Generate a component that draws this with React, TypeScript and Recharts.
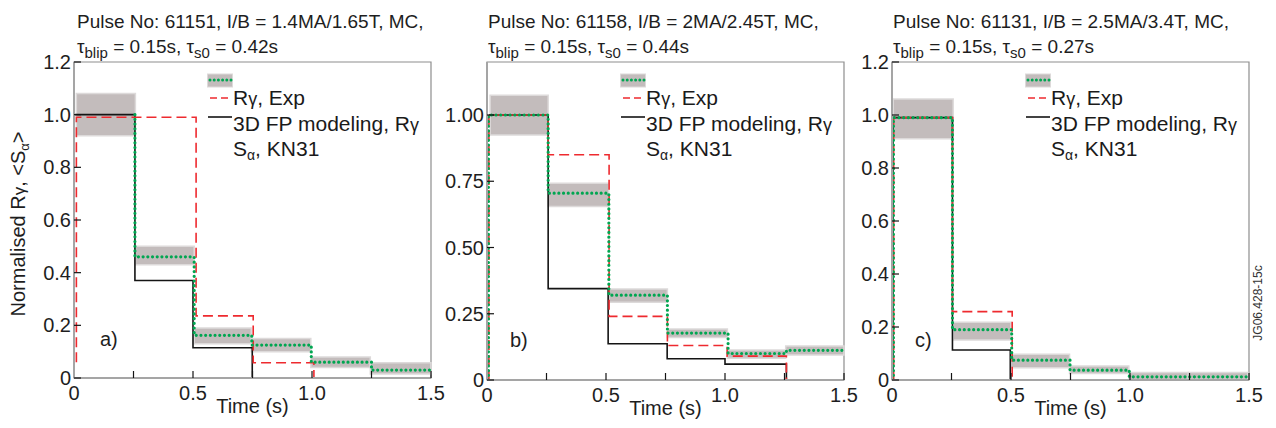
import React from "react";
import { ComposedChart, Line, XAxis, YAxis, ReferenceArea, Legend } from "recharts";

const FONT = '"Liberation Sans", Arial, Helvetica, sans-serif';
const GREEN = "#00a651";
const RED = "#ee2a2f";
const BLACK = "#141414";
const BAND = "#c3bcbc";
const BAND_EDGE = "#dddada";
const FRAME = "#8e8e8e";

// shared axes
const xTicks = [0, 0.25, 0.5, 0.75, 1, 1.25, 1.5];
const xTickLabels = ["0", "", "0.5", "", "1.0", "", "1.5"];
const yTicks12 = [0, 0.2, 0.4, 0.6, 0.8, 1.0, 1.2];
const yTickLabels12 = ["0", "0.2", "0.4", "0.6", "0.8", "1.0", "1.2"];
const yTicks100 = [0, 0.25, 0.5, 0.75, 1.0];
const yTickLabels100 = ["0", "0.25", "0.50", "0.75", "1.00"];

// a) pulse 61151
const titleA = "Pulse No: 61151, I/B = 1.4MA/1.65T, MC,";
const tauBlipA = "0.15s";
const tauS0A = "0.42s";
const bandEdgesA = [0.01, 0.258, 0.505, 0.745, 0.995, 1.245, 1.5];
const bandLowA = [0.92, 0.43, 0.13, 0.1, 0.04, 0.015];
const bandHighA = [1.08, 0.5, 0.19, 0.15, 0.08, 0.058];
const kn31TA = [0.256, 0.256, 0.505, 0.747, 0.997, 1.25, 1.5];
const kn31VA = [1.0, 0.46, 0.162, 0.125, 0.06, 0.03, 0.03];
const expTA = [0.01, 0.01, 0.513, 0.753, 1.008];
const expVA = [0.06, 0.99, 0.236, 0.058, 0];
const fpTA = [0.005, 0.256, 0.5, 0.749];
const fpVA = [1.0, 0.37, 0.115, 0];

// b) pulse 61158
const titleB = "Pulse No: 61158, I/B = 2MA/2.45T, MC,";
const tauBlipB = "0.15s";
const tauS0B = "0.44s";
const bandEdgesB = [0.013, 0.257, 0.512, 0.758, 1.01, 1.255, 1.5];
const bandLowB = [0.925, 0.655, 0.293, 0.16, 0.082, 0.094];
const bandHighB = [1.075, 0.742, 0.343, 0.192, 0.113, 0.128];
const kn31TB = [0.006, 0.006, 0.257, 0.512, 0.758, 1.013, 1.258, 1.5];
const kn31VB = [0, 1.0, 0.705, 0.32, 0.177, 0.1, 0.112, 0.112];
const expTB = [0.008, 0.008, 0.257, 0.513, 0.758, 1.009, 1.258];
const expVB = [0, 1.0, 0.85, 0.24, 0.13, 0.09, 0];
const fpTB = [0.008, 0.257, 0.509, 0.757, 1.0, 1.258];
const fpVB = [1.0, 0.345, 0.137, 0.08, 0.06, 0];

// c) pulse 61131
const titleC = "Pulse No: 61131, I/B = 2.5MA/3.4T, MC,";
const tauBlipC = "0.15s";
const tauS0C = "0.27s";
const bandEdgesC = [0.005, 0.257, 0.5, 0.746, 0.995, 1.245, 1.495];
const bandLowC = [0.91, 0.151, 0.046, 0.025, 0.0, 0.002];
const bandHighC = [1.06, 0.218, 0.097, 0.053, 0.028, 0.028];
const kn31TC = [0.006, 0.006, 0.254, 0.503, 0.748, 0.997, 1.49];
const kn31VC = [0, 0.99, 0.19, 0.075, 0.037, 0.012, 0.012];
const expTC = [0.007, 0.007, 0.254, 0.505];
const expVC = [0, 0.99, 0.258, 0];
const fpTC = [0.004, 0.004, 0.254, 0.497];
const fpVC = [0, 0.99, 0.113, 0];

const toPts = (t: number[], v: number[]) => t.map((x, i) => ({ t: x, v: v[i] }));

function LegendBox() {
  return (
    <svg width={240} height={95} style={{ overflow: "visible", display: "block" }}>
      <rect x={0.5} y={4} width={25} height={13} fill={BAND} stroke={BAND_EDGE} />
      <line x1={3} x2={24} y1={10} y2={10} stroke={GREEN} strokeWidth={3}
        strokeDasharray="0 4.2" strokeLinecap="round" />
      <line x1={3} x2={25} y1={28} y2={28} stroke={RED} strokeWidth={1.5} strokeDasharray="7 4" />
      <line x1={1} x2={25} y1={47} y2={47} stroke={BLACK} strokeWidth={1.6} />
      <g fontFamily={FONT} fontSize={21} fill="#1a1a1a">
        <text x={26} y={35}>R<tspan fontSize={18}>γ</tspan>, Exp</text>
        <text x={26} y={60.5}>3D FP modeling, R<tspan fontSize={18}>γ</tspan></text>
        <text x={26} y={86}>S<tspan fontSize={14} dy={4}>α</tspan><tspan dy={-4}>, KN31</tspan></text>
      </g>
    </svg>
  );
}

interface PanelProps {
  left: number;
  width: number;
  yAxisW: number;
  right: number;
  bottom: number;
  yTicks: number[];
  yTickLabels: string[];
  edges: number[];
  low: number[];
  high: number[];
  kn31: { t: number; v: number }[];
  exp: { t: number; v: number }[];
  fp: { t: number; v: number }[];
}

function Panel(p: PanelProps) {
  const tickStyle = { fill: "#1e1e1e", fontSize: 20, fontFamily: FONT };
  return (
    <div style={{ position: "absolute", left: p.left, top: 0 }}>
      <ComposedChart width={p.width} height={428}
        margin={{ top: 62, right: p.right, bottom: p.bottom, left: 0 }}>
        <XAxis type="number" dataKey="t" domain={[0, 1.5]} ticks={xTicks} interval={0}
          allowDataOverflow height={30} tickSize={-7} tickMargin={15}
          tickFormatter={(v: number) => xTickLabels[xTicks.indexOf(v)] ?? ""}
          axisLine={{ stroke: "#a5a5a5", strokeWidth: 2 }}
          tickLine={{ stroke: BLACK, strokeWidth: 1.2 }} tick={tickStyle}
          label={{ value: "Time (s)", position: "bottom", offset: -9, fill: "#1e1e1e", fontSize: 20, fontFamily: FONT }} />
        <YAxis type="number" domain={[0, 1.2]} ticks={p.yTicks} interval={0}
          allowDataOverflow width={p.yAxisW} tickSize={-7} tickMargin={10}
          tickFormatter={(v: number) => p.yTickLabels[p.yTicks.indexOf(v)] ?? ""}
          axisLine={{ stroke: "#a5a5a5", strokeWidth: 2 }}
          tickLine={{ stroke: BLACK, strokeWidth: 1.2 }} tick={tickStyle} />
        <ReferenceArea x1={0} x2={1.5} y1={0} y2={1.2} fill="none" stroke={FRAME} strokeWidth={1.2} />
        {p.low.map((lo, i) => (
          <ReferenceArea key={i} x1={p.edges[i]} x2={p.edges[i + 1]} y1={lo} y2={p.high[i]}
            fill={BAND} fillOpacity={1} stroke={BAND_EDGE} strokeWidth={1.5} />
        ))}
        <Line data={p.fp} dataKey="v" type="stepAfter" stroke={BLACK} strokeWidth={1.6}
          dot={false} isAnimationActive={false} legendType="none" />
        <Line data={p.exp} dataKey="v" type="stepAfter" stroke={RED} strokeWidth={1.6}
          strokeDasharray="10 5" dot={false} isAnimationActive={false} legendType="none" />
        <Line data={p.kn31} dataKey="v" type="stepAfter" stroke={GREEN} strokeWidth={3.2}
          strokeDasharray="0 4.7" strokeLinecap="round" dot={false} isAnimationActive={false}
          legendType="none" />
        <Legend layout="horizontal" verticalAlign="middle" align="center"
          wrapperStyle={{ left: p.yAxisW + 133, top: 70, width: 240, height: 95 }}
          content={() => <LegendBox />} />
      </ComposedChart>
    </div>
  );
}

function Title({ x, line1, blip, s0 }: { x: number; line1: string; blip: string; s0: string }) {
  return (
    <g fontFamily={FONT} fontSize={19} fill="#1e1e1e">
      <text x={x} y={28}>{line1}</text>
      <text x={x} y={53}>
        τ<tspan fontSize={15} dy={5}>blip</tspan>
        <tspan dy={-5}> = {blip}, τ</tspan>
        <tspan fontSize={15} dy={5}>s0</tspan>
        <tspan dy={-5}> = {s0}</tspan>
      </text>
    </g>
  );
}

export default function App() {
  return (
    <div style={{ position: "absolute", left: 0, top: 0, width: 1276, height: 428, background: "#fff", overflow: "hidden" }}>
      <Panel left={0} width={460} yAxisW={74} right={29} bottom={20}
        yTicks={yTicks12} yTickLabels={yTickLabels12}
        edges={bandEdgesA} low={bandLowA} high={bandHighA}
        kn31={toPts(kn31TA, kn31VA)} exp={toPts(expTA, expVA)} fp={toPts(fpTA, fpVA)} />
      <Panel left={420} width={450} yAxisW={67} right={26} bottom={18}
        yTicks={yTicks100} yTickLabels={yTickLabels100}
        edges={bandEdgesB} low={bandLowB} high={bandHighB}
        kn31={toPts(kn31TB, kn31VB)} exp={toPts(expTB, expVB)} fp={toPts(fpTB, fpVB)} />
      <Panel left={840} width={436} yAxisW={52} right={27} bottom={18}
        yTicks={yTicks12} yTickLabels={yTickLabels12}
        edges={bandEdgesC} low={bandLowC} high={bandHighC}
        kn31={toPts(kn31TC, kn31VC)} exp={toPts(expTC, expVC)} fp={toPts(fpTC, fpVC)} />
      <svg width={1276} height={428} style={{ position: "absolute", left: 0, top: 0, pointerEvents: "none" }}>
        <Title x={77} line1={titleA} blip={tauBlipA} s0={tauS0A} />
        <Title x={488} line1={titleB} blip={tauBlipB} s0={tauS0B} />
        <Title x={893} line1={titleC} blip={tauBlipC} s0={tauS0C} />
        <text transform="rotate(-90 25 224)" x={25} y={224} textAnchor="middle"
          fontFamily={FONT} fontSize={20} fill="#1e1e1e">
          Normalised R<tspan fontSize={17}>γ</tspan>, &lt;S<tspan fontSize={13} dy={4}>α</tspan>
          <tspan dy={-4}>&gt;</tspan>
        </text>
        <g fontFamily={FONT} fontSize={20} fill="#1e1e1e">
          <text x={100} y={346}>a)</text>
          <text x={510} y={347}>b)</text>
          <text x={915} y={347}>c)</text>
        </g>
        <text transform="rotate(-90 1262 303)" x={1262} y={303} textAnchor="middle"
          fontFamily={FONT} fontSize={12} fill="#333">JG06.428-15c</text>
      </svg>
    </div>
  );
}
